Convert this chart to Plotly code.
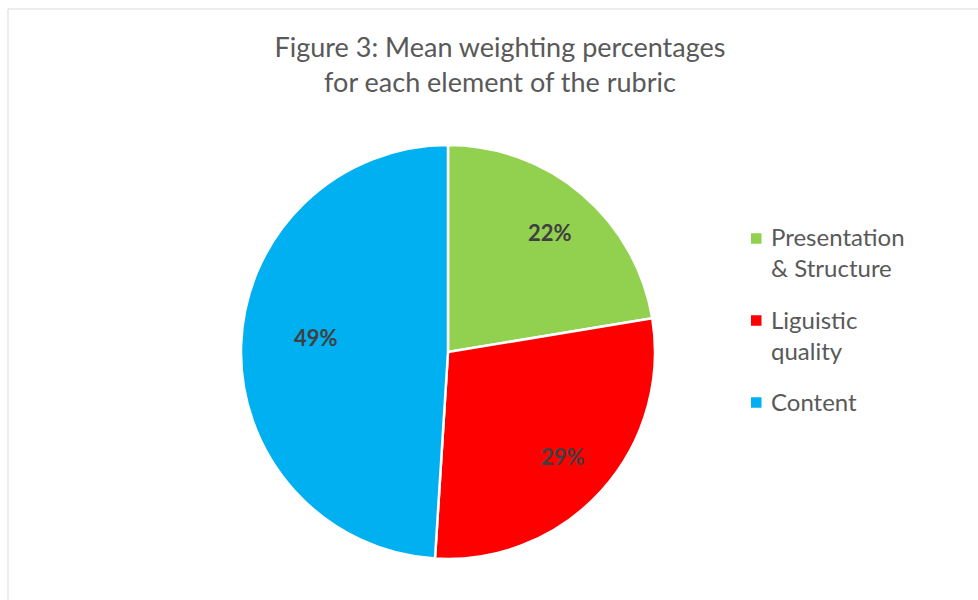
import math
import plotly.graph_objects as go

categories = ["Presentation & Structure", "Liguistic quality", "Content"]
legend_labels = ["Presentation<br>& Structure", "Liguistic<br>quality", "Content"]
values = [22.4, 28.6, 49.0]
colors = ["#92D050", "#FF0000", "#00B0F0"]

W, H = 978, 600
cx, cy, R = 448, 352, 207
label_radius = [0.76, 0.75, 0.64]   # radial placement of data labels (fraction of radius)
label_nudge_y = [0, 0, -10]         # small vertical nudges (px) of data labels

fig = go.Figure(go.Pie(
    labels=categories,
    values=values,
    sort=False,
    direction="clockwise",
    rotation=0,
    marker=dict(colors=colors, line=dict(color="white", width=2.5)),
    textinfo="none",
    domain=dict(x=[(cx - R) / W, (cx + R) / W], y=[1 - (cy + R) / H, 1 - (cy - R) / H]),
    hoverinfo="label+percent",
    showlegend=False,
))

annotations = []
shapes = [dict(type="rect", xref="paper", yref="paper",
               x0=8 / W, x1=1.05, y0=-0.05, y1=1 - 9 / H,
               line=dict(color="#D9D9D9", width=1), layer="below")]

# data labels: placed at the mid-angle of each slice
total = sum(values)
cum = 0.0
for v, rf, ny in zip(values, label_radius, label_nudge_y):
    mid = (cum + v / 2) / total * 2 * math.pi
    cum += v
    px = cx + rf * R * math.sin(mid)
    py = cy - rf * R * math.cos(mid) + ny
    annotations.append(dict(
        x=px / W, y=1 - py / H, xref="paper", yref="paper",
        text=f"<b>{round(v / total * 100)}%</b>", showarrow=False,
        xanchor="center", yanchor="middle",
        font=dict(family="Lato", size=22, color="#404040"),
    ))

# legend
leg_x, leg_y0, line_h, entry_gap, sq = 751, 238.5, 32, 18, 10.5
y = leg_y0
for lab, col in zip(legend_labels, colors):
    nlines = lab.count("<br>") + 1
    shapes.append(dict(type="rect", xref="paper", yref="paper",
                       x0=leg_x / W, x1=(leg_x + sq) / W,
                       y0=1 - (y + sq / 2) / H, y1=1 - (y - sq / 2) / H,
                       fillcolor=col, line=dict(width=0)))
    annotations.append(dict(
        x=(leg_x + 18) / W, y=1 - (y - 18) / H, xref="paper", yref="paper",
        text=lab, showarrow=False, xanchor="left", yanchor="top", align="left",
        font=dict(family="Lato", size=24, color="#595959"),
    ))
    y += nlines * line_h + entry_gap

fig.update_layout(
    width=W, height=H,
    margin=dict(l=0, r=0, t=0, b=0),
    paper_bgcolor="white",
    title=dict(
        text="Figure 3: Mean weighting percentages<br>for each element of the rubric",
        x=500 / W, xanchor="center", y=1 - 57 / H, yanchor="top",
        font=dict(family="Lato", size=27, color="#595959"),
    ),
    showlegend=False,
    annotations=annotations,
    shapes=shapes,
)

fig.write_html("out.html")
